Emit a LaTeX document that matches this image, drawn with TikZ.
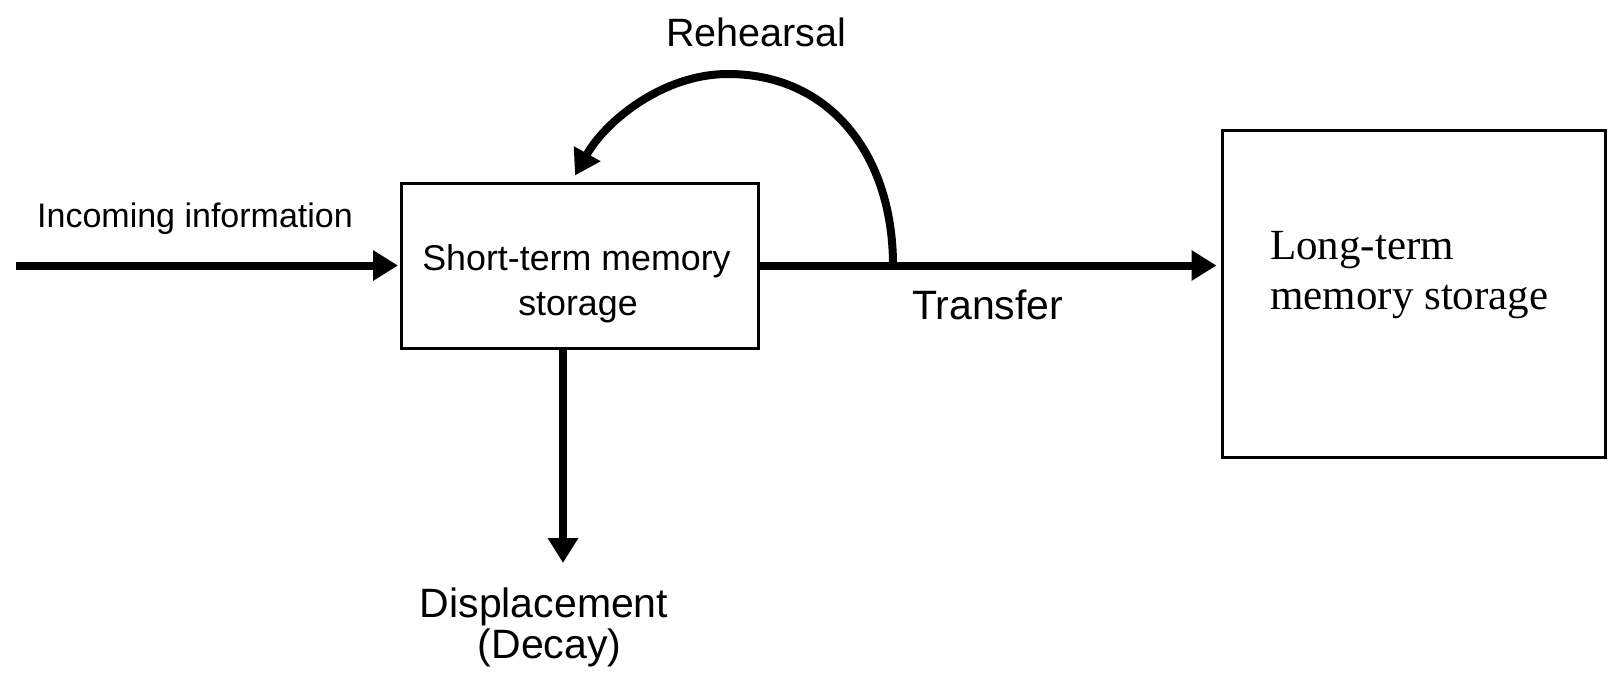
\documentclass[tikz,border=0pt]{standalone}
\usepackage{fontspec}
\setmainfont{Liberation Sans}
\newfontfamily\ltmfont{Liberation Serif}
\usetikzlibrary{arrows.meta,calc}
\begin{document}
\begin{tikzpicture}[x=1pt,y=-1pt,
  box/.style={draw=black, line width=3pt, inner sep=0pt, fill=white},
  arr/.style={draw=black, line width=8pt, -{Triangle[length=25pt,width=29pt]}},
  lbl/.style={inner sep=0pt, text=black},
  fsmall/.style={font=\fontsize{34pt}{34pt}\selectfont},
  fmid/.style={font=\fontsize{35.8pt}{36pt}\selectfont},
  fbig/.style={font=\fontsize{41pt}{41pt}\selectfont},
  freh/.style={font=\fontsize{39.5pt}{40pt}\selectfont},
  fserif/.style={font=\ltmfont\fontsize{43pt}{43pt}\selectfont}]
\useasboundingbox[fill=white] (0,0) rectangle (1608,678);

% boxes
\node[box, minimum width=357pt, minimum height=165pt] (stm) at (579.5,265.5) {};
\node[box, minimum width=383pt, minimum height=327pt] (ltm) at (1413.5,293.5) {};

% coordinates
\coordinate (inc) at (16,265.5);
\coordinate (split) at (893,265.5);
\coordinate (rtip) at ($(stm.north)+(-4.5,-6)$);
\coordinate (dstart) at ($(stm.south)+(-16.5,0)$);
\coordinate (dend) at (563,563);

% connectors
\draw[arr] (inc) -- ([xshift=-1.5pt]stm.west);
\draw[arr] (stm.east) -- ([xshift=-4pt]stm.east -| ltm.west);
\draw[arr] (dstart) -- (dend);
\draw[arr] (split) .. controls (893,155) and (830,74) .. (728,74)
                   .. controls (662,74) and (605,122) .. (rtip);

% labels
\node[lbl, fsmall, anchor=base west] (inctext) at (37,227) {Incoming information};
\node[lbl, freh, anchor=base west] (reh) at (666,46) {Rehearsal};
\node[lbl, fmid, anchor=base] (stm1) at (576.5,270) {Short-term memory};
\node[lbl, fmid, anchor=base] (stm2) at (578,315) {storage};
\node[lbl, fbig, anchor=base west] (trans) at (912,319) {Transfer};
\node[lbl, fbig, anchor=base] (disp1) at (544,617) {Displacement};
\node[lbl, fbig, anchor=base] (disp2) at (549.5,658) {(Decay)};
\node[lbl, fserif, anchor=base west] (ltm1) at (1270,259) {Long-term};
\node[lbl, fserif, anchor=base west] (ltm2) at (1270,309) {memory storage};
\end{tikzpicture}
\end{document}
